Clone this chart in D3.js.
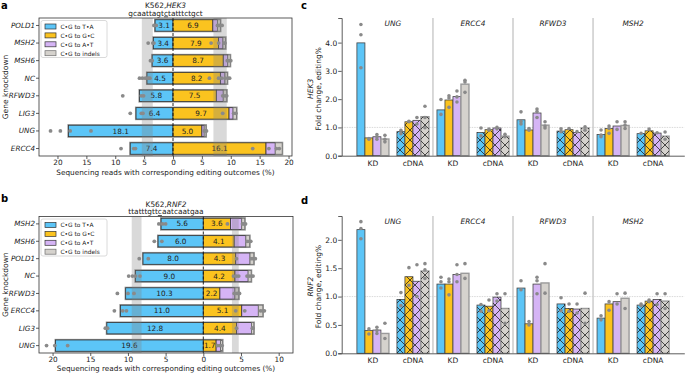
<!DOCTYPE html>
<html><head><meta charset="utf-8">
<script src="https://cdn.jsdelivr.net/npm/d3@7"></script>
<style>body{margin:0;background:#fff}svg{display:block;font-family:"DejaVu Sans",sans-serif}</style>
</head><body><svg id="chart" width="685" height="373"></svg>
<script>
// ---------- DATA ----------
const outcomeNames = ["C\u2022G to T\u2022A","C\u2022G to G\u2022C","C\u2022G to A\u2022T","C\u2022G to indels"];
const outcomeColors = ["#5cc5f7","#fbc31f","#d5b4f5","#d5d2cd"];

// panel a (HEK3)
const genesA = ["POLD1","MSH2","MSH6","NC","RFWD3","LIG3","UNG","ERCC4"];
const taA = [3.1,3.4,3.6,4.5,5.8,6.4,18.1,7.4];
const gcA = [6.9,7.9,8.7,8.2,7.5,9.7,5.0,16.1];
const atA = [0.8,0.75,0.8,0.8,1.2,0.7,0.4,1.6];
const indelA = [0.5,0.45,0.4,0.4,0.6,0.6,0.3,1.2];
const dotsLeftA = [[3.3,2.9],[4.3,3.5,3.3],[3.9,3.6],[5.8,5.3,4.8,4.3,4.0],[8.7,5.5,5.1],[7.4,5.5,5.2],[21.2,19.5,17.8,14.2],[9.0,6.8,6.5]];
const dotsRightA = [[7.7,8.0,8.5],[6.6,7.9,8.8,9.0],[9.4,9.7,10.0],[6.3,7.9,8.4,9.0,9.5,9.8],[8.6,9.0,9.3],[8.6,10.5,10.9],[5.4,5.6,5.8],[13.8,16.6,17.9,18.4]];
const bandsA = [[-5.4,-3.5],[7.0,9.3]];
const ticksA = [-20,-15,-10,-5,0,5,10,15,20];

// panel b (RNF2)
const genesB = ["MSH2","MSH6","POLD1","NC","RFWD3","ERCC4","LIG3","UNG"];
const taB = [5.6,6.0,8.0,9.0,10.3,11.0,12.8,19.6];
const gcB = [3.6,4.1,4.3,4.2,2.2,5.1,4.4,1.7];
const atB = [1.5,1.55,1.9,1.75,2.0,2.2,2.0,0.6];
const indelB = [0.4,0.5,0.5,0.4,0.5,0.6,0.3,0.25];
const dotsLeftB = [[5.9,5.4,5.0],[6.5,5.5],[8.5,7.3],[9.9,9.4,9.0,8.4],[11.4,10.0,9.2],[11.8,10.7,10.2],[13.0,12.7],[20.8,19.7,18.0]];
const dotsRightB = [[3.2,5.2,5.4,5.6],[5.8,6.1,6.3],[4.4,6.3,6.6,6.9],[4.0,4.4,4.7,5.8,6.1,6.4,6.6],[4.1,4.5,4.8],[4.3,5.5,7.6,7.9,8.1],[4.4,6.5,6.6],[1.9,2.2,2.5]];
const bandsB = [[-9.5,-8.2],[3.8,4.7]];
const ticksB = [-20,-15,-10,-5,0,5,10];

// panels c / d
const genesCD = ["UNG","ERCC4","RFWD3","MSH2"];
const conditions = ["KD","cDNA"];
const c_TA = [3.99,0.85,1.62,0.82,1.27,0.87,0.75,0.78];
const c_GC = [0.63,1.20,1.97,0.92,0.91,0.92,0.96,0.88];
const c_AT = [0.67,1.25,2.09,0.98,1.51,0.82,1.05,0.80];
const c_IN = [0.59,1.38,2.53,0.69,1.08,0.98,1.07,0.69];
const c_TA_dots = [[4.64,4.28,3.11],[0.9,0.78],[1.99,1.46],[0.98,0.7],[1.55,1.21,1.12],[0.95,0.85],[0.91,0.73,0.67],[0.79]];
const c_GC_dots = [[0.61,0.58],[1.2,1.22],[2.12,2.04,1.71],[0.94,0.9],[0.96,0.9],[0.96],[1.05,0.96,0.79],[0.94]];
const c_AT_dots = [[0.75,0.67,0.58],[1.35,1.12],[2.29,2.08,1.9],[1.0,0.95],[1.65,1.56,1.35],[0.85],[1.2,0.93],[0.81]];
const c_IN_dots = [[0.72,0.58,0.49],[1.75,0.99,1.35],[2.67,2.61,2.24],[0.76,0.67],[1.2,0.98,1.05],[1.02,0.9],[1.2,1.08,0.96],[0.84,0.58]];
const c_ticks = [0,1,2,3,4];

const d_TA = [2.18,0.95,1.22,0.85,1.15,0.87,0.62,0.85];
const d_GC = [0.40,1.35,1.22,0.83,0.52,0.79,0.87,0.92];
const d_AT = [0.41,1.27,1.39,0.99,1.22,0.78,0.91,0.95];
const d_IN = [0.35,1.45,1.41,0.79,1.24,0.79,0.97,0.92];
const d_TA_dots = [[2.32,2.2,2.02],[1.07,0.84],[1.34,1.26,1.15],[0.86,0.74],[1.28,1.12],[0.98,0.75],[0.66,0.59],[0.87,0.84]];
const d_GC_dots = [[0.43,0.34],[1.51,1.2],[1.31,1.26,1.03],[0.94,0.75],[0.56,0.5],[0.87,0.74],[0.91,0.76],[0.94,0.91]];
const d_AT_dots = [[0.46,0.40,0.35],[1.56,1.0],[1.56,1.39,1.26],[1.05,0.92],[1.34,1.28,1.05],[0.87,0.71],[1.05,0.87],[1.05,0.86]];
const d_IN_dots = [[0.53,0.26],[1.58,1.47,1.32],[1.58,1.32],[1.05,0.53],[1.58,1.06],[1.06,0.53],[1.06,0.79],[1.05,0.79]];
const d_ticks = [0,0.5,1,1.5,2];

// ---------- DRAW ----------
const svg = d3.select("#chart");
const defs = svg.append("defs");
const pat = defs.append("pattern").attr("id","hatch").attr("patternUnits","userSpaceOnUse")
  .attr("width",10).attr("height",10);
pat.append("path").attr("d","M0,0L10,10M0,10L10,0M-1,1L1,-1M9,11L11,9M-1,9L1,11M9,-1L11,1")
  .attr("stroke","#222").attr("stroke-width",0.8).attr("fill","none");

const TXT = "#222";
function panelLabel(t,x,y){
  svg.append("text").attr("x",x).attr("y",y).attr("font-size",10).attr("font-weight","bold").text(t);
}

function hbarPanel(cfg){
  const g = svg.append("g");
  const x = d3.scaleLinear().domain(cfg.xDom).range([cfg.left,cfg.right]);
  const y = d3.scaleBand().domain(cfg.genes).range([cfg.top,cfg.bottom]).paddingInner(0.35).paddingOuter(0.1);
  const bw = y.bandwidth();
  const cx = (cfg.left+cfg.right)/2;
  const t1 = g.append("text").attr("x",cx).attr("y",cfg.top-10).attr("text-anchor","middle").attr("font-size",7.4).attr("fill",TXT);
  t1.append("tspan").text("K562,");
  t1.append("tspan").attr("font-style","italic").text(cfg.site);
  const t2 = g.append("text").attr("x",cx).attr("y",cfg.top-2.5).attr("text-anchor","middle").attr("font-size",7.4).attr("fill",TXT);
  t2.append("tspan").text(cfg.seq.slice(0,9));
  t2.append("tspan").attr("text-decoration","underline").text(cfg.seq.slice(9,10));
  t2.append("tspan").text(cfg.seq.slice(10));

  cfg.genes.forEach((gn,i)=>{
    const yc = y(gn);
    const ta = cfg.ta[i], gc = cfg.gc[i], at = cfg.at[i], ind = cfg.indel[i];
    g.append("rect").attr("x",x(-ta)).attr("y",yc).attr("width",x(gc+at+ind)-x(-ta)).attr("height",bw)
      .attr("fill","none").attr("stroke","#9a9a9a").attr("stroke-width",2.2);
    const segs = [[-ta,0,0],[0,gc,1],[gc,gc+at,2],[gc+at,gc+at+ind,3]];
    segs.forEach(s=>{
      g.append("rect").attr("x",x(s[0])).attr("y",yc).attr("width",x(s[1])-x(s[0])).attr("height",bw)
        .attr("fill",outcomeColors[s[2]]).attr("stroke",s[2]===3?"#6e6e6e":"#333").attr("stroke-width",0.8);
    });
    g.append("text").attr("x",x(-ta/2)).attr("y",yc+bw/2+2.6).attr("text-anchor","middle").attr("font-size",7.3).attr("fill",TXT).text(ta.toFixed(1));
    g.append("text").attr("x",x(gc/2)).attr("y",yc+bw/2+2.6).attr("text-anchor","middle").attr("font-size",7.3).attr("fill",TXT).text(gc.toFixed(1));
  });
  cfg.bands.forEach(b=>{
    g.append("rect").attr("x",x(b[0])).attr("y",cfg.top).attr("width",x(b[1])-x(b[0])).attr("height",cfg.bottom-cfg.top)
      .attr("fill","#808080").attr("opacity",0.3);
  });
  g.append("line").attr("x1",x(0)).attr("x2",x(0)).attr("y1",cfg.top).attr("y2",cfg.bottom)
    .attr("stroke","#111").attr("stroke-width",0.9).attr("stroke-dasharray","3,2");
  cfg.genes.forEach((gn,i)=>{
    const yc = y(gn)+bw/2;
    cfg.dotsL[i].forEach(v=>g.append("circle").attr("cx",x(-v)).attr("cy",yc).attr("r",1.9).attr("fill","#8a8a8a"));
    cfg.dotsR[i].forEach(v=>g.append("circle").attr("cx",x(v)).attr("cy",yc).attr("r",1.9).attr("fill","#8a8a8a"));
  });
  g.append("rect").attr("x",cfg.left).attr("y",cfg.top).attr("width",cfg.right-cfg.left).attr("height",cfg.bottom-cfg.top)
    .attr("fill","none").attr("stroke","#333").attr("stroke-width",0.8);
  const ax = g.append("g").attr("transform",`translate(0,${cfg.bottom})`)
    .call(d3.axisBottom(x).tickValues(cfg.ticks).tickFormat(d=>Math.abs(d)).tickSize(3).tickPadding(1.2));
  ax.select(".domain").remove();
  ax.selectAll("text").attr("font-size",7.3).attr("fill",TXT).attr("font-family","DejaVu Sans");
  ax.selectAll("line").attr("stroke","#333").attr("stroke-width",0.8);
  const ay = g.append("g").attr("transform",`translate(${cfg.left},0)`)
    .call(d3.axisLeft(y).tickSize(3).tickPadding(1));
  ay.select(".domain").remove();
  ay.selectAll("text").attr("font-size",7.2).attr("font-style","italic").attr("fill",TXT).attr("font-family","DejaVu Sans");
  ay.selectAll("line").attr("stroke","#333").attr("stroke-width",0.8);
  g.append("text").attr("x",cx).attr("y",cfg.bottom+cfg.titleDy).attr("text-anchor","middle").attr("font-size",7.3).attr("fill",TXT)
    .text("Sequencing reads with corresponding editing outcomes (%)");
  g.append("text").attr("transform",`translate(7.5,${(cfg.top+cfg.bottom)/2}) rotate(-90)`).attr("text-anchor","middle")
    .attr("font-size",7.5).attr("fill",TXT).text("Gene knockdown");
  const lg = g.append("g").attr("transform",`translate(${cfg.left+2},${cfg.top+2.5})`);
  lg.append("rect").attr("width",66).attr("height",37).attr("rx",2).attr("fill","#fff").attr("fill-opacity",0.8)
    .attr("stroke","#d0d0d0").attr("stroke-width",0.8);
  outcomeNames.forEach((n,i)=>{
    lg.append("rect").attr("x",4).attr("y",3.5+i*8.9).attr("width",11).attr("height",5)
      .attr("fill",outcomeColors[i]).attr("stroke",i===3?"#6e6e6e":"#333").attr("stroke-width",0.7);
    lg.append("text").attr("x",19.5).attr("y",8.3+i*8.9).attr("font-size",5.9).attr("fill",TXT).text(n);
  });
}

hbarPanel({genes:genesA,ta:taA,gc:gcA,at:atA,indel:indelA,dotsL:dotsLeftA,dotsR:dotsRightA,bands:bandsA,ticks:ticksA,
  xDom:[-23.2,20.6],left:39,right:292,top:18,bottom:156,site:"HEK3",seq:"gcaattagtctatttctgct",titleDy:18.5});
hbarPanel({genes:genesB,ta:taB,gc:gcB,at:atB,indel:indelB,dotsL:dotsLeftB,dotsR:dotsRightB,bands:bandsB,ticks:ticksB,
  xDom:[-21.8,11.9],left:39,right:293,top:216.5,bottom:353,site:"RNF2",seq:"ttatttgttcaatcaatgaa",titleDy:17.5});

function vbarPanel(cfg){
  const g = svg.append("g");
  const groups = d3.range(genesCD.length*conditions.length);
  const xg = d3.scaleBand().domain(groups).range([cfg.left,cfg.right]).paddingInner(0).paddingOuter(0.28);
  const xs = d3.scaleBand().domain(d3.range(4)).range([0,xg.bandwidth()]).paddingInner(0).paddingOuter(0.5);
  const y = d3.scaleLinear().domain(cfg.yDom).range([cfg.bottom,cfg.top]);
  for(let k=1;k<genesCD.length;k++){
    const xx = (xg(k*2-1)+xg.bandwidth() + xg(k*2))/2;
    g.append("line").attr("x1",xx).attr("x2",xx).attr("y1",cfg.top).attr("y2",cfg.bottom).attr("stroke","#c8c8c8").attr("stroke-width",1.4);
  }
  g.append("line").attr("x1",cfg.left).attr("x2",cfg.right).attr("y1",y(1)).attr("y2",y(1))
    .attr("stroke","#c8c8c8").attr("stroke-width",0.7).attr("stroke-dasharray","1.5,1");
  const series = cfg.series, dots = cfg.dots;
  groups.forEach(gi=>{
    series.forEach((s,si)=>{
      const bx = xg(gi)+xs(si), w = xs.bandwidth(), v = s[gi];
      g.append("rect").attr("x",bx).attr("y",y(v)).attr("width",w).attr("height",y(0)-y(v))
        .attr("fill",outcomeColors[si]).attr("stroke",si===3?"#9a9a9a":"#444").attr("stroke-width",si===3?1.4:0.8);
      if(gi%2===1){
        g.append("rect").attr("x",bx).attr("y",y(v)).attr("width",w).attr("height",y(0)-y(v)).attr("fill","url(#hatch)");
      }
    });
  });
  groups.forEach(gi=>{
    dots.forEach((ds,si)=>{
      const cx = xg(gi)+xs(si)+xs.bandwidth()/2;
      ds[gi].forEach(v=>g.append("circle").attr("cx",cx).attr("cy",y(v)).attr("r",1.8).attr("fill","#8a8a8a"));
    });
  });
  genesCD.forEach((gn,k)=>{
    const xx = (xg(k*2)+xg(k*2+1)+xg.bandwidth())/2;
    g.append("text").attr("x",xx).attr("y",cfg.top+8).attr("text-anchor","middle").attr("font-size",7.4)
      .attr("font-style","italic").attr("fill",TXT).text(gn);
  });
  const ay = g.append("g").attr("transform",`translate(${cfg.left},0)`)
    .call(d3.axisLeft(y).tickValues(cfg.ticks).tickFormat(d3.format(".1f")).tickSize(3.5).tickPadding(1));
  ay.select(".domain").attr("stroke","#333").attr("stroke-width",0.8);
  ay.selectAll("text").attr("font-size",7.5).attr("fill",TXT).attr("font-family","DejaVu Sans");
  ay.selectAll("line").attr("stroke","#333").attr("stroke-width",0.8);
  const ax = g.append("g").attr("transform",`translate(0,${cfg.bottom})`)
    .call(d3.axisBottom(xg).tickFormat(d=>conditions[d%2]).tickSize(0).tickPadding(4.5));
  ax.select(".domain").attr("stroke","#333").attr("stroke-width",0.8);
  ax.selectAll("text").attr("font-size",7.5).attr("fill",TXT).attr("font-family","DejaVu Sans");
  const yc = (cfg.top+cfg.bottom)/2+2;
  g.append("text").attr("transform",`translate(${cfg.left-28.5},${yc}) rotate(-90)`).attr("text-anchor","middle")
    .attr("font-size",7.5).attr("font-style","italic").attr("fill",TXT).text(cfg.site);
  g.append("text").attr("transform",`translate(${cfg.left-20.5},${yc}) rotate(-90)`).attr("text-anchor","middle")
    .attr("font-size",7.5).attr("fill",TXT).text("Fold change, editing%");
}

vbarPanel({series:[c_TA,c_GC,c_AT,c_IN],dots:[c_TA_dots,c_GC_dots,c_AT_dots,c_IN_dots],ticks:c_ticks,
  yDom:[0,4.87],left:341.7,right:684.3,top:18,bottom:155.7,site:"HEK3"});
vbarPanel({series:[d_TA,d_GC,d_AT,d_IN],dots:[d_TA_dots,d_GC_dots,d_AT_dots,d_IN_dots],ticks:d_ticks,
  yDom:[0,2.42],left:341.7,right:684.3,top:216,bottom:353.3,site:"RNF2"});

panelLabel("a",1,8.5);
panelLabel("b",1,202);
panelLabel("c",301,9);
panelLabel("d",301,204);
</script></body></html>
